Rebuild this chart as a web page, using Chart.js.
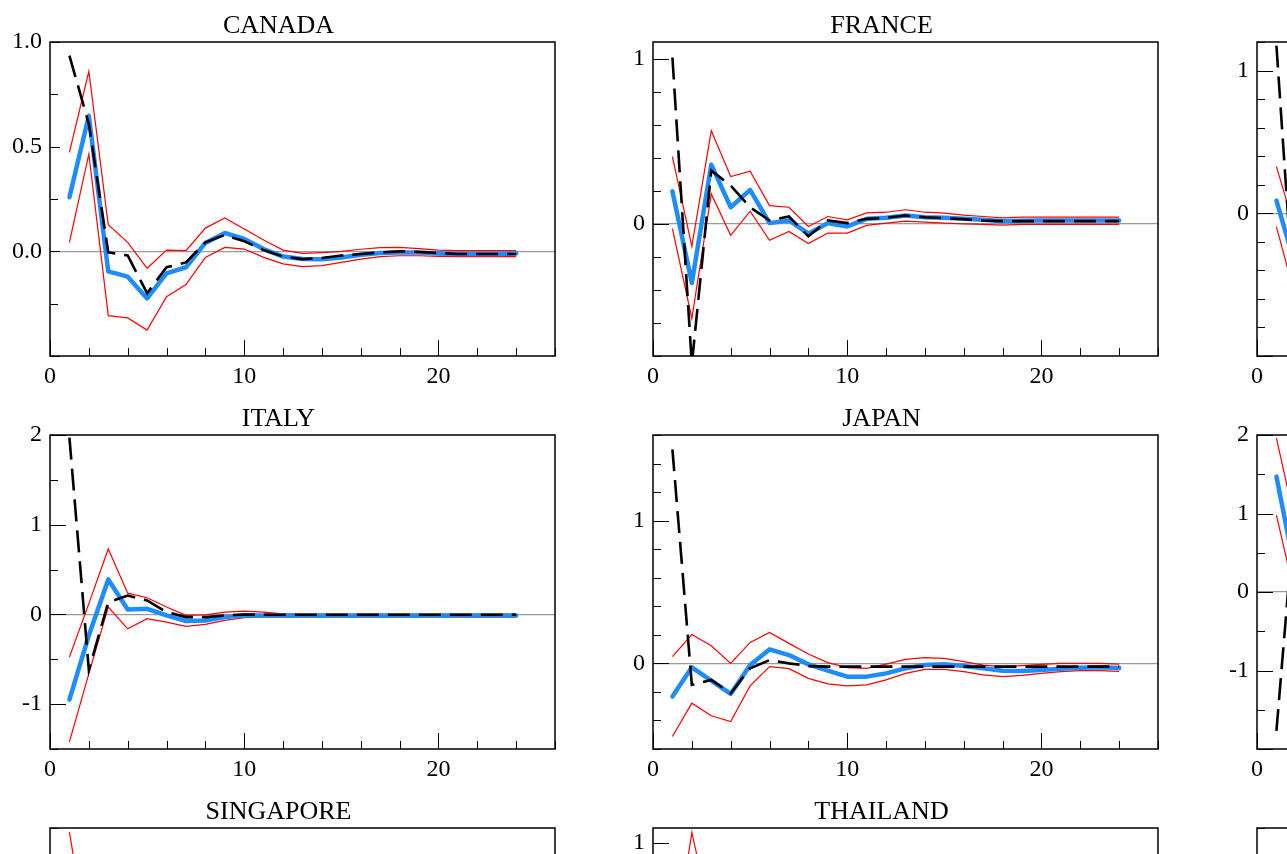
<!DOCTYPE html>
<html>
<head>
<meta charset="utf-8">
<script src="https://cdn.jsdelivr.net/npm/chart.js@4.4.1/dist/chart.umd.min.js"></script>
<style>
  html, body { margin: 0; padding: 0; background: #fff; overflow: hidden; }
  #grid { position: relative; width: 1287px; height: 854px; overflow: hidden; }
  .panel { position: absolute; }
</style>
</head>
<body>
<div id="grid"></div>
<script>
// horizon (periods after the shock)
const horizon = [1, 2, 3, 4, 5, 6, 7, 8, 9, 10, 11, 12, 13, 14, 15, 16, 17, 18, 19, 20, 21, 22, 23, 24];
const xTicks = [0, 2, 4, 6, 8, 10, 12, 14, 16, 18, 20, 22, 24, 26];
const xLabels = [0, 10, 20];

// CANADA
const canadaAlt   = [0.935, 0.608, -0.005, -0.02, -0.2, -0.076, -0.053, 0.043, 0.078, 0.048, 0.006, -0.025, -0.037, -0.032, -0.02, -0.013, -0.005, 0.0, -0.003, -0.008, -0.013, -0.013, -0.013, -0.013];
const canadaIrf   = [0.258, 0.648, -0.096, -0.121, -0.225, -0.105, -0.076, 0.04, 0.088, 0.059, 0.011, -0.025, -0.037, -0.038, -0.029, -0.016, -0.008, -0.005, -0.006, -0.01, -0.013, -0.013, -0.013, -0.01];
const canadaUpper = [0.473, 0.86, 0.127, 0.043, -0.081, 0.006, 0.003, 0.111, 0.159, 0.107, 0.054, 0.006, -0.01, -0.006, 0.0, 0.01, 0.018, 0.019, 0.013, 0.006, 0.003, 0.003, 0.003, 0.003];
const canadaLower = [0.043, 0.465, -0.307, -0.318, -0.376, -0.217, -0.159, -0.029, 0.019, 0.011, -0.029, -0.06, -0.073, -0.068, -0.053, -0.037, -0.025, -0.021, -0.021, -0.024, -0.025, -0.025, -0.025, -0.025];

// FRANCE
const franceAlt   = [1.006, -0.85, 0.322, 0.231, 0.1, 0.02, 0.044, -0.076, 0.02, 0.004, 0.03, 0.036, 0.05, 0.04, 0.034, 0.028, 0.02, 0.016, 0.016, 0.016, 0.016, 0.016, 0.016, 0.016];
const franceIrf   = [0.197, -0.358, 0.358, 0.1, 0.205, 0.004, 0.02, -0.06, 0.004, -0.016, 0.03, 0.036, 0.05, 0.04, 0.036, 0.03, 0.024, 0.016, 0.018, 0.02, 0.02, 0.02, 0.02, 0.02];
const franceUpper = [0.406, -0.137, 0.563, 0.286, 0.318, 0.11, 0.1, -0.016, 0.044, 0.024, 0.066, 0.07, 0.085, 0.07, 0.064, 0.052, 0.044, 0.036, 0.04, 0.04, 0.04, 0.04, 0.04, 0.04];
const franceLower = [-0.03, -0.573, 0.181, -0.07, 0.076, -0.1, -0.046, -0.12, -0.056, -0.056, -0.01, 0.004, 0.016, 0.01, 0.004, 0.0, -0.004, -0.008, -0.004, -0.004, -0.004, -0.004, -0.004, -0.004];

// third panel of the first row
const r1c3Alt   = [1.175, -0.83];
const r1c3Irf   = [0.089, -0.38];
const r1c3Upper = [0.327, -0.13];
const r1c3Lower = [-0.093, -0.6];

// ITALY
const italyAlt   = [1.97, -0.62, 0.137, 0.21, 0.156, 0.026, -0.03, -0.03, -0.011, 0.0, -0.004, -0.004, -0.004, -0.004, -0.004, -0.004, -0.004, -0.004, -0.004, -0.004, -0.004, -0.004, -0.004, -0.004];
const italyIrf   = [-0.95, -0.234, 0.39, 0.056, 0.063, -0.011, -0.074, -0.067, -0.03, -0.011, -0.011, -0.011, -0.011, -0.011, -0.011, -0.011, -0.011, -0.011, -0.011, -0.011, -0.011, -0.011, -0.011, -0.011];
const italyUpper = [-0.475, 0.12, 0.73, 0.237, 0.186, 0.082, -0.011, -0.004, 0.026, 0.037, 0.026, 0.007, 0.0, 0.0, 0.0, 0.0, 0.0, 0.0, 0.0, 0.0, 0.0, 0.0, 0.0, 0.0];
const italyLower = [-1.42, -0.66, 0.082, -0.16, -0.048, -0.085, -0.134, -0.111, -0.067, -0.037, -0.03, -0.03, -0.03, -0.03, -0.03, -0.03, -0.03, -0.03, -0.03, -0.03, -0.03, -0.03, -0.03, -0.03];

// JAPAN
const japanAlt   = [1.5, -0.151, -0.116, -0.209, -0.035, 0.023, 0.0, -0.019, -0.023, -0.023, -0.023, -0.023, -0.023, -0.023, -0.023, -0.023, -0.023, -0.023, -0.023, -0.023, -0.023, -0.023, -0.023, -0.023];
const japanIrf   = [-0.233, -0.028, -0.121, -0.214, -0.012, 0.098, 0.058, -0.007, -0.051, -0.093, -0.093, -0.07, -0.035, -0.012, -0.007, -0.019, -0.035, -0.051, -0.053, -0.047, -0.037, -0.03, -0.028, -0.033];
const japanUpper = [0.047, 0.202, 0.123, 0.0, 0.147, 0.216, 0.14, 0.065, 0.005, -0.03, -0.035, -0.005, 0.028, 0.04, 0.035, 0.012, -0.012, -0.023, -0.016, -0.007, 0.0, 0.0, 0.0, -0.005];
const japanLower = [-0.512, -0.279, -0.367, -0.407, -0.158, -0.023, -0.037, -0.105, -0.144, -0.158, -0.151, -0.116, -0.07, -0.042, -0.042, -0.058, -0.081, -0.093, -0.084, -0.07, -0.058, -0.051, -0.051, -0.056];

// third panel of the second row
const r2c3Alt   = [-1.77, 1.2];
const r2c3Irf   = [1.47, 0.22];
const r2c3Upper = [1.96, 0.85];
const r2c3Lower = [0.98, -0.09];

// SINGAPORE, THAILAND (top edge only)
const singaporeUpper = [2.45, 0.95];
const thailandUpper  = [0.23, 1.07, 0.48];

const SERIF = "'Liberation Serif', 'Times New Roman', serif";
Chart.defaults.font.family = SERIF;
Chart.defaults.color = '#000';

const panels = [
  { title: 'CANADA',    col: 0, row: 0, yMin: -0.5, yMax: 1.0, major: 0.5, minor: 0.25, digits: 1, majorLen: 10,
    alt: canadaAlt, irf: canadaIrf, upper: canadaUpper, lower: canadaLower },
  { title: 'FRANCE',    col: 1, row: 0, yMin: -0.8, yMax: 1.1, major: 1, minor: 0.2, digits: 0, majorLen: 16,
    alt: franceAlt, irf: franceIrf, upper: franceUpper, lower: franceLower },
  { title: '',          col: 2, row: 0, yMin: -1.0, yMax: 1.2, major: 1, minor: 0.2, digits: 0, majorLen: 16,
    alt: r1c3Alt, irf: r1c3Irf, upper: r1c3Upper, lower: r1c3Lower },
  { title: 'ITALY',     col: 0, row: 1, yMin: -1.5, yMax: 2.0, major: 1, minor: 0.5, digits: 0, majorLen: 16,
    alt: italyAlt, irf: italyIrf, upper: italyUpper, lower: italyLower },
  { title: 'JAPAN',     col: 1, row: 1, yMin: -0.6, yMax: 1.6, major: 1, minor: 0.2, digits: 0, majorLen: 16,
    alt: japanAlt, irf: japanIrf, upper: japanUpper, lower: japanLower },
  { title: '',          col: 2, row: 1, yMin: -2.0, yMax: 2.0, major: 1, minor: 0.5, digits: 0, majorLen: 16,
    alt: r2c3Alt, irf: r2c3Irf, upper: r2c3Upper, lower: r2c3Lower },
  { title: 'SINGAPORE', col: 0, row: 2, yMin: -1.5, yMax: 2.5, major: 1, minor: 0.5, digits: 0, majorLen: 16,
    alt: [], irf: [], upper: singaporeUpper, lower: [] },
  { title: 'THAILAND',  col: 1, row: 2, yMin: -1.0, yMax: 1.1, major: 1, minor: 0.2, digits: 0, majorLen: 16,
    alt: [], irf: [], upper: thailandUpper, lower: [] },
  { title: '',          col: 2, row: 2, yMin: -1.5, yMax: 2.5, major: 1, minor: 0.5, digits: 0, majorLen: 16,
    alt: [], irf: [], upper: [], lower: [] }
];

const isMultiple = (v, step) => Math.abs(v / step - Math.round(v / step)) < 1e-6;

// box around the plot plus inward-pointing tick marks
const frameTicks = {
  id: 'frameTicks',
  afterDatasetsDraw(chart, args, opts) {
    const { ctx, chartArea: a, scales: { x, y } } = chart;
    ctx.save();
    ctx.strokeStyle = '#000';
    ctx.lineWidth = 1;
    ctx.beginPath();
    x.ticks.forEach(t => {
      const px = Math.round(x.getPixelForValue(t.value)) + 0.5;
      const len = t.value % 10 === 0 ? 16 : 8;
      ctx.moveTo(px, a.bottom);
      ctx.lineTo(px, a.bottom - len);
    });
    y.ticks.forEach(t => {
      const py = Math.round(y.getPixelForValue(t.value)) + 0.5;
      const len = isMultiple(t.value, opts.major) ? opts.majorLen : 8;
      ctx.moveTo(a.left, py);
      ctx.lineTo(a.left + len, py);
    });
    ctx.stroke();
    ctx.lineWidth = 1.5;
    ctx.strokeRect(a.left, a.top, a.right - a.left, a.bottom - a.top);
    ctx.restore();
  }
};

function series(values, style) {
  return Object.assign({
    data: values.map((v, i) => ({ x: horizon[i], y: v })),
    pointRadius: 0,
    tension: 0,
    fill: false,
    clip: 0
  }, style);
}

const grid = document.getElementById('grid');
const tickFont = { size: 24 };

panels.forEach(p => {
  const box = document.createElement('div');
  box.className = 'panel';
  box.style.left = Math.round(p.col * 603.25) + 'px';
  box.style.top = (p.row * 393) + 'px';
  const canvas = document.createElement('canvas');
  canvas.width = 561;
  canvas.height = 392;
  box.appendChild(canvas);
  grid.appendChild(box);

  new Chart(canvas, {
    type: 'line',
    data: {
      datasets: [
        series(p.alt,   { borderColor: '#000', borderWidth: 2.6, borderDash: [22, 9] }),
        series(p.irf,   { borderColor: '#1e8cff', borderWidth: 4.5, borderCapStyle: 'round', borderJoinStyle: 'round' }),
        series(p.upper, { borderColor: '#ff0000', borderWidth: 1.2 }),
        series(p.lower, { borderColor: '#ff0000', borderWidth: 1.2 })
      ]
    },
    options: {
      responsive: false,
      animation: false,
      events: [],
      layout: { padding: { left: 0, right: 4, top: 0, bottom: 0 } },
      plugins: {
        legend: { display: false },
        tooltip: { enabled: false },
        title: {
          display: true,
          text: p.title,
          color: '#000',
          font: { family: SERIF, size: 26, weight: 'normal', lineHeight: 1 },
          padding: { top: 13, bottom: 3 }
        },
        frameTicks: { major: p.major, majorLen: p.majorLen }
      },
      scales: {
        x: {
          type: 'linear',
          min: 0,
          max: 26,
          afterBuildTicks: s => { s.ticks = xTicks.map(v => ({ value: v })); },
          afterFit: s => { s.height = 36; },
          grid: { display: false, drawTicks: false },
          border: { display: false },
          ticks: {
            autoSkip: false,
            maxRotation: 0,
            padding: 6,
            font: tickFont,
            callback: v => (xLabels.includes(v) ? String(v) : '')
          }
        },
        y: {
          type: 'linear',
          min: p.yMin,
          max: p.yMax,
          afterBuildTicks: s => {
            const out = [];
            for (let k = Math.ceil(p.yMin / p.minor - 1e-6); k * p.minor <= p.yMax + 1e-6; k++) {
              out.push({ value: Math.round(k * p.minor * 1000) / 1000 });
            }
            s.ticks = out;
          },
          afterFit: s => { s.width = 50; },
          grid: {
            drawTicks: false,
            lineWidth: 1.3,
            color: c => (c.tick && Math.abs(c.tick.value) < 1e-9 ? '#9a9a9a' : 'rgba(0,0,0,0)')
          },
          border: { display: false },
          ticks: {
            autoSkip: false,
            padding: 8,
            font: tickFont,
            callback: v => (isMultiple(v, p.major) && Math.abs(v - p.yMin) > 1e-6 ? (Math.round(v * 10) / 10).toFixed(p.digits) : '')
          }
        }
      }
    },
    plugins: [frameTicks]
  });
});
</script>
</body>
</html>
